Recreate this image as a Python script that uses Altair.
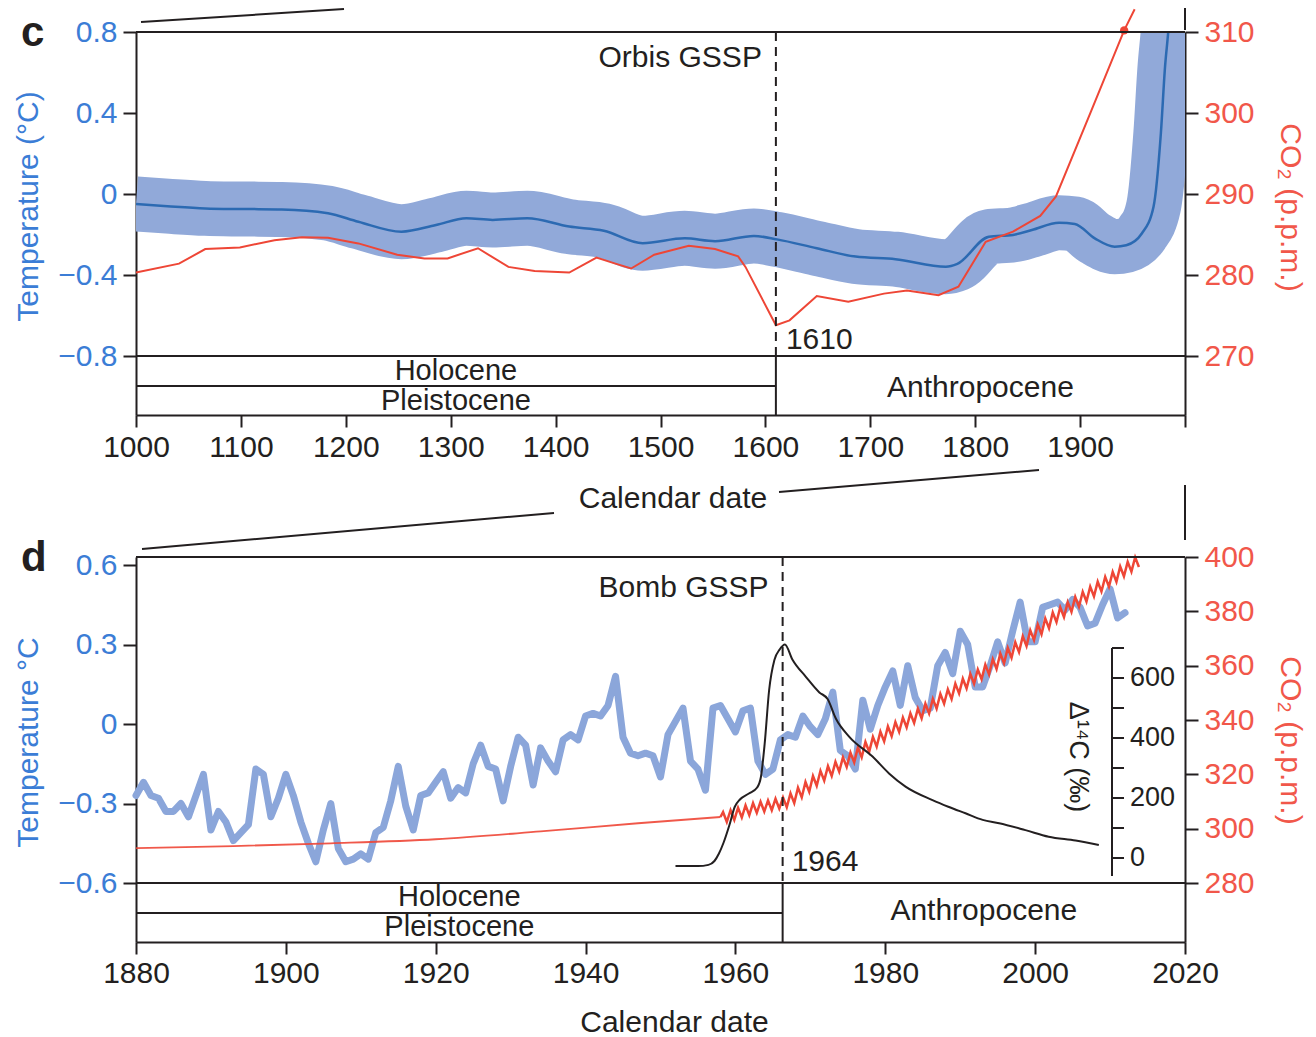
import altair as alt
import pandas as pd

FONT = "Liberation Sans"
INK = "#231f20"
BLUE_TXT = "#3b7dd6"
RED_TXT = "#f1574a"
BAND = "#91a9d9"
LINE_DK = "#2c6ab2"
RED = "#ee4636"
BLUE_D = "#8ba6da"

# ---------------- panel c data (AD 1000-2000) ----------------
c_temp_years = [1000, 1030, 1066, 1100, 1139, 1183, 1212, 1253, 1286, 1315,
                1340, 1373, 1413, 1446, 1483, 1523, 1552, 1589, 1611, 1649,
                1686, 1724, 1772, 1783, 1813, 1836, 1854, 1880, 1895, 1914,
                1933, 1944, 1959, 1970, 1977, 1981, 1984, 1988, 1995]
c_temp_vals = [-0.049, -0.06, -0.071, -0.074, -0.076, -0.095, -0.137, -0.186, -0.153, -0.12,
               -0.128, -0.12, -0.161, -0.181, -0.243, -0.219, -0.233, -0.207, -0.224, -0.268,
               -0.309, -0.322, -0.359, -0.345, -0.211, -0.202, -0.178, -0.142, -0.148, -0.219,
               -0.26, -0.253, -0.194, -0.063, 0.30, 0.63, 0.80, 1.10, 1.60]
c_co2_years = [1000, 1041, 1066, 1099, 1132, 1158, 1183, 1212, 1249, 1275,
               1297, 1326, 1355, 1380, 1413, 1439, 1457, 1472, 1494, 1527,
               1552, 1574, 1581, 1610, 1623, 1649, 1679, 1713, 1735, 1765,
               1784, 1810, 1836, 1862, 1877, 1911, 1942, 1952]
c_co2_vals = [280.3, 281.4, 283.2, 283.4, 284.3, 284.65, 284.6, 283.9, 282.5, 282.05,
              282.05, 283.3, 281.0, 280.5, 280.3, 282.15, 281.4, 280.8, 282.5, 283.6,
              283.2, 282.3, 281.0, 273.8, 274.4, 277.4, 276.7, 277.7, 278.1, 277.5,
              278.55, 284.1, 285.35, 287.3, 289.7, 300.4, 310.2, 312.8]
c_co2_mark_year = [1942]
c_co2_mark_val = [310.2]
c_epochs = [1000, 1610, 2000]
c_xticks = list(range(1000, 2001, 100))
c_temp_ticks = [-0.8, -0.4, 0, 0.4, 0.8]
c_co2_ticks = [270, 280, 290, 300, 310]

# ---------------- panel d data (1880-2020) ----------------
d_temp_years = list(range(1880, 2013))
d_temp_vals = [
    -0.27, -0.22, -0.27, -0.28, -0.33, -0.33, -0.30, -0.35, -0.27, -0.19,
    -0.40, -0.33, -0.37, -0.44, -0.41, -0.38, -0.17, -0.19, -0.35, -0.28,
    -0.19, -0.27, -0.37, -0.45, -0.52, -0.40, -0.30, -0.47, -0.52, -0.51,
    -0.49, -0.51, -0.41, -0.39, -0.29, -0.16, -0.31, -0.40, -0.27, -0.26,
    -0.22, -0.18, -0.28, -0.24, -0.26, -0.15, -0.08, -0.16, -0.17, -0.29,
    -0.16, -0.05, -0.08, -0.23, -0.09, -0.14, -0.18, -0.06, -0.04, -0.06,
    0.03, 0.04, 0.03, 0.07, 0.18, -0.05, -0.11, -0.12, -0.11, -0.12,
    -0.20, -0.04, 0.01, 0.06, -0.14, -0.17, -0.25, 0.06, 0.07, 0.02,
    -0.03, 0.05, 0.06, -0.14, -0.19, -0.17, -0.06, -0.04, -0.05, 0.03,
    -0.01, -0.04, 0.02, 0.12, -0.10, -0.12, -0.17, 0.09, -0.02, 0.07,
    0.14, 0.20, 0.07, 0.22, 0.10, 0.05, 0.06, 0.22, 0.27, 0.19,
    0.35, 0.30, 0.14, 0.14, 0.22, 0.31, 0.23, 0.35, 0.46, 0.31,
    0.31, 0.44, 0.45, 0.46, 0.43, 0.47, 0.44, 0.37, 0.38, 0.45,
    0.51, 0.40, 0.42]
d_co2_early_years = [1880, 1893, 1906, 1920, 1934, 1947, 1958]
d_co2_early_vals = [292.8, 293.6, 294.6, 296.1, 299.0, 302.0, 304.3]
d_co2_years = list(range(1958, 2014))
d_co2_peak = [306.1, 306.8, 307.7, 308.6, 309.4, 309.9, 310.4, 311.0, 311.5, 313.0,
              315.1, 317.2, 319.4, 321.3, 323.0, 324.6, 326.3, 328.0, 329.9, 331.9,
              333.8, 335.7, 337.6, 339.2, 340.9, 342.5, 344.2, 346.0, 347.8, 349.6,
              351.3, 353.4, 355.2, 357.0, 358.6, 360.4, 362.4, 364.5, 366.5, 368.6,
              370.8, 373.0, 375.2, 377.4, 379.6, 381.5, 383.4, 385.3, 387.2, 389.1,
              390.9, 392.7, 394.5, 396.5, 398.2, 399.9]
d_co2_trough = [302.5, 303.2, 304.1, 305.0, 305.8, 306.3, 306.8, 307.4, 307.9, 309.4,
                311.5, 313.6, 315.8, 317.7, 319.4, 321.0, 322.7, 324.4, 326.3, 328.3,
                330.2, 332.1, 334.0, 335.6, 337.3, 338.9, 340.6, 342.4, 344.2, 346.0,
                347.7, 349.8, 351.6, 353.4, 355.0, 356.8, 358.8, 360.9, 362.9, 365.0,
                367.2, 369.4, 371.6, 373.8, 376.0, 377.9, 379.8, 381.7, 383.6, 385.5,
                387.3, 389.1, 390.9, 392.9, 394.6, 396.3]
d14_years = [1952.0, 1955.0, 1956.4, 1957.2, 1957.8, 1958.4, 1959.2, 1959.9, 1960.6, 1961.8,
             1962.9, 1963.4, 1963.9, 1964.5, 1965.2, 1965.9, 1966.6, 1967.6, 1969.4, 1971.2,
             1972.3, 1973.4, 1975.2, 1978.3, 1980.5, 1982.7, 1986.3, 1988.5, 1990.7, 1993.0,
             1995.2, 1998.7, 2001.8, 2005.4, 2008.5]
d14_vals = [-27, -27, -23, -10, 15, 50, 110, 170, 195, 215,
            235, 270, 380, 560, 660, 695, 712, 662, 604, 552,
            530, 465, 404, 338, 282, 238, 193, 170, 149, 127,
            116, 93, 71, 58, 43]
d14_ticks = [0, 100, 200, 300, 400, 500, 600, 700]
d14_labels = [0, 200, 400, 600]
d14_axis_span = [-60, 700]
d_epochs = [1880, 1966.3, 2020]
d_xticks = list(range(1880, 2021, 20))
d_temp_ticks = [-0.6, -0.3, 0, 0.3, 0.6]
d_co2_ticks = [280, 300, 320, 340, 360, 380, 400]

# ---------------- layout constants ----------------
W = 1049
HC = 383          # panel c plot + epoch strip
HC_BAND = 324     # px where epoch strip starts
HD = 385
HD_BAND = 326
ONE = pd.DataFrame({"k": [0]})

c_t_dom = [0.8 - HC * 1.6 / HC_BAND, 0.8]
c_c_dom = [310 - HC * 40 / HC_BAND, 310]
d_t_top = 0.6 + 8 * 1.2 / 318
d_t_dom = [d_t_top - HD * 1.2 / 318, d_t_top]
d_c_dom = [400 - HD * 120 / HD_BAND, 400]
d14_dom = [-(HD - 301) * 10 / 3, 301 * 10 / 3]

AXC = dict(grid=False, domainColor=INK, domainWidth=2, tickColor=INK, tickWidth=2,
           labelFont=FONT, labelFontSize=30, titleFont=FONT, titleFontSize=30,
           titleFontWeight="normal", labelFlush=False, labelOverlap=False)

AX_XC = alt.Axis(values=c_xticks, format="d",
                 labelExpr="datum.value == 2000 ? '' : datum.label",
                 tickSize=12, labelPadding=5, labelColor=INK,
                 title="Calendar date", titleColor=INK, titleX=536.5, titleY=92,
                 titleBaseline="alphabetic", titleAlign="center", **AXC)
AX_XD = alt.Axis(values=d_xticks, format="d", tickSize=12, labelPadding=4, labelColor=INK,
                 title="Calendar date", titleColor=INK, titleX=538, titleY=89,
                 titleBaseline="alphabetic", titleAlign="center", **AXC)
AX_CL = alt.Axis(orient="left", values=c_temp_ticks, format=".1~f", tickSize=13, labelPadding=6,
                 labelColor=BLUE_TXT, title="Temperature (°C)", titleColor=BLUE_TXT,
                 titleX=-108, titleY=174, titleAngle=270, titleBaseline="middle",
                 titleAlign="center", **AXC)
AX_CR = alt.Axis(orient="right", values=c_co2_ticks, format="d", tickSize=13, labelPadding=6,
                 labelColor=RED_TXT, title="CO₂ (p.p.m.)", titleColor=RED_TXT,
                 titleX=104, titleY=175, titleAngle=90, titleBaseline="middle",
                 titleAlign="center", **AXC)
AX_DL = alt.Axis(orient="left", values=d_temp_ticks, format=".1~f", tickSize=13, labelPadding=6,
                 labelColor=BLUE_TXT, title="Temperature °C", titleColor=BLUE_TXT,
                 titleX=-108, titleY=185, titleAngle=270, titleBaseline="middle",
                 titleAlign="center", **AXC)
AX_DR = alt.Axis(orient="right", values=d_co2_ticks, format="d", tickSize=13, labelPadding=6,
                 labelColor=RED_TXT, title="CO₂ (p.p.m.)", titleColor=RED_TXT,
                 titleX=104, titleY=183, titleAngle=90, titleBaseline="middle",
                 titleAlign="center", **AXC)


def make_x(dom, axis):
    def fx(field=None, datum=None):
        sc = alt.Scale(domain=dom, nice=False, zero=False)
        if field is not None:
            return alt.X(field, type="quantitative", scale=sc, axis=axis)
        return alt.X(datum=datum, type="quantitative", scale=sc, axis=axis)
    return fx


xc = make_x([1000, 2000], AX_XC)
xd = make_x([1880, 2020], AX_XD)


def yq(field, dom, axis=None):
    return alt.Y(field, type="quantitative", scale=alt.Scale(domain=dom, nice=False, zero=False), axis=axis)


def text_layer(x, y, text, size=30, **kw):
    return alt.Chart(ONE).mark_text(text=text, font=FONT, fontSize=size, color=kw.pop("color", INK),
                                    **kw).encode(x=x, y=y)


def seg(x1, y1, x2, y2):
    return alt.Chart(ONE).mark_rule(color=INK, strokeWidth=2).encode(
        x=alt.value(x1), y=alt.value(y1), x2=alt.value(x2), y2=alt.value(y2))


# ---------------- panel c ----------------
c_temp_df = pd.DataFrame({"year": c_temp_years, "t": c_temp_vals})
c_co2_df = pd.DataFrame({"year": c_co2_years, "co2": c_co2_vals})
c_dot_df = pd.DataFrame({"year": c_co2_mark_year, "co2": c_co2_mark_val})
c_ep = pd.DataFrame({"s": [c_epochs[0]], "e": [c_epochs[1]], "b": [c_epochs[1]]})

c_layers = [
    alt.Chart(c_temp_df).mark_line(clip=True, color=BAND, strokeWidth=55, strokeCap="butt",
                                   strokeJoin="round", interpolate="monotone").encode(
        x=xc("year"), y=yq("t", c_t_dom, AX_CL)),
    alt.Chart(c_temp_df).mark_line(clip=True, color=LINE_DK, strokeWidth=2.5,
                                   interpolate="monotone").encode(
        x=xc("year"), y=yq("t", c_t_dom)),
    alt.Chart(c_co2_df).mark_line(color=RED, strokeWidth=2).encode(
        x=xc("year"), y=yq("co2", c_c_dom, AX_CR)),
    alt.Chart(c_dot_df).mark_circle(color=RED, size=70, opacity=1).encode(
        x=xc("year"), y=yq("co2", c_c_dom)),
    alt.Chart(c_ep).mark_rule(color=INK, strokeWidth=2, strokeDash=[9, 6]).encode(
        x=xc("b"), y=alt.value(0), y2=alt.value(HC_BAND)),
    seg(0, 0, W, 0),
    seg(0, HC_BAND, W, HC_BAND),
    alt.Chart(c_ep).mark_rule(color=INK, strokeWidth=2).encode(
        x=xc("s"), x2=alt.X2("e"), y=alt.value(354)),
    alt.Chart(c_ep).mark_rule(color=INK, strokeWidth=2).encode(
        x=xc("b"), y=alt.value(HC_BAND), y2=alt.value(HC)),
    text_layer(xc(datum=(c_epochs[0] + c_epochs[1]) / 2), alt.value(339), "Holocene", size=29, baseline="middle"),
    text_layer(xc(datum=(c_epochs[0] + c_epochs[1]) / 2), alt.value(369), "Pleistocene", size=29, baseline="middle"),
    text_layer(xc(datum=(c_epochs[1] + c_epochs[2]) / 2), alt.value(356), "Anthropocene", baseline="middle"),
    text_layer(xc(datum=c_epochs[1]), alt.value(26), "Orbis GSSP", align="right", dx=-14, baseline="middle"),
    text_layer(xc(datum=c_epochs[1]), alt.value(308), "1610", align="left", dx=10, baseline="middle"),
    text_layer(alt.value(-115), alt.value(1), "c", size=42, fontWeight="bold", align="left",
               baseline="middle"),
    seg(5, -10, 208, -23),
    seg(W, -24, W, -2),
    seg(6, 517, 418, 481),
    seg(643, 460, 903, 438),
    seg(W, 453, W, 508),
]
panel_c = alt.layer(*c_layers).resolve_scale(y="independent").properties(width=W, height=HC)

# ---------------- panel d ----------------
d_temp_df = pd.DataFrame({"year": d_temp_years, "t": d_temp_vals})
d_co2e_df = pd.DataFrame({"year": d_co2_early_years, "co2": d_co2_early_vals})
zz_x, zz_y = [d_co2_early_years[-1]], [d_co2_early_vals[-1]]
for yr, pk, tr in zip(d_co2_years, d_co2_peak, d_co2_trough):
    zz_x += [yr + 0.35, yr + 0.85]
    zz_y += [pk, tr]
d_co2z_df = pd.DataFrame({"year": zz_x, "co2": zz_y})
d14_df = pd.DataFrame({"year": d14_years, "v": d14_vals})
d14_tick_df = pd.DataFrame({"v": d14_ticks})
d14_lab_df = pd.DataFrame({"v": d14_labels, "s": [str(v) for v in d14_labels]})
d14_span_df = pd.DataFrame({"lo": [d14_axis_span[0]], "hi": [d14_axis_span[1]]})
d_ep = pd.DataFrame({"s": [d_epochs[0]], "e": [d_epochs[1]], "b": [d_epochs[1]]})
INSET_X = 976

d_layers = [
    alt.Chart(d_temp_df).mark_line(color=BLUE_D, strokeWidth=7, strokeJoin="round", strokeCap="round").encode(
        x=xd("year"), y=yq("t", d_t_dom, AX_DL)),
    alt.Chart(d_co2e_df).mark_line(color=RED, strokeWidth=1.8, interpolate="monotone", opacity=0.9).encode(
        x=xd("year"), y=yq("co2", d_c_dom, AX_DR)),
    alt.Chart(d_co2z_df).mark_line(color=RED, strokeWidth=2.5).encode(
        x=xd("year"), y=yq("co2", d_c_dom)),
    alt.Chart(d14_df).mark_line(color=INK, strokeWidth=2, interpolate="monotone").encode(
        x=xd("year"), y=yq("v", d14_dom)),
    alt.Chart(d14_span_df).mark_rule(color=INK, strokeWidth=2).encode(
        x=alt.value(INSET_X), y=yq("lo", d14_dom), y2=alt.Y2("hi")),
    alt.Chart(d14_tick_df).mark_rule(color=INK, strokeWidth=2).encode(
        x=alt.value(INSET_X), x2=alt.value(INSET_X + 12), y=yq("v", d14_dom)),
    alt.Chart(d14_lab_df).mark_text(font=FONT, fontSize=27, color=INK, align="left", baseline="middle").encode(
        x=alt.value(INSET_X + 18), y=yq("v", d14_dom), text="s:N"),
    text_layer(alt.value(942), alt.value(200), "Δ¹⁴C (‰)", size=27, angle=90, baseline="middle"),
    alt.Chart(d_ep).mark_rule(color=INK, strokeWidth=2, strokeDash=[9, 6]).encode(
        x=xd("b"), y=alt.value(0), y2=alt.value(HD_BAND)),
    seg(0, 0, W, 0),
    seg(0, HD_BAND, W, HD_BAND),
    alt.Chart(d_ep).mark_rule(color=INK, strokeWidth=2).encode(
        x=xd("s"), x2=alt.X2("e"), y=alt.value(356)),
    alt.Chart(d_ep).mark_rule(color=INK, strokeWidth=2).encode(
        x=xd("b"), y=alt.value(HD_BAND), y2=alt.value(HD)),
    text_layer(xd(datum=(d_epochs[0] + d_epochs[1]) / 2), alt.value(340), "Holocene", size=29, baseline="middle"),
    text_layer(xd(datum=(d_epochs[0] + d_epochs[1]) / 2), alt.value(370), "Pleistocene", size=29, baseline="middle"),
    text_layer(xd(datum=(d_epochs[1] + d_epochs[2]) / 2), alt.value(354), "Anthropocene", baseline="middle"),
    text_layer(xd(datum=d_epochs[1]), alt.value(31), "Bomb GSSP", align="right", dx=-14, baseline="middle"),
    text_layer(xd(datum=d_epochs[1]), alt.value(305), "1964", align="left", dx=9, baseline="middle"),
    text_layer(alt.value(-115), alt.value(1), "d", size=42, fontWeight="bold", align="left",
               baseline="middle"),
]
panel_d = alt.layer(*d_layers).resolve_scale(y="independent").properties(width=W, height=HD)

chart = alt.vconcat(panel_c, panel_d, spacing=142, bounds="flush").properties(
    padding={"left": 4, "top": -4, "right": 0, "bottom": 0},
    background="white",
).configure_view(stroke=INK, strokeWidth=2).configure(font=FONT)

chart.save("out.html", embed_options={"renderer": "svg", "actions": False})
